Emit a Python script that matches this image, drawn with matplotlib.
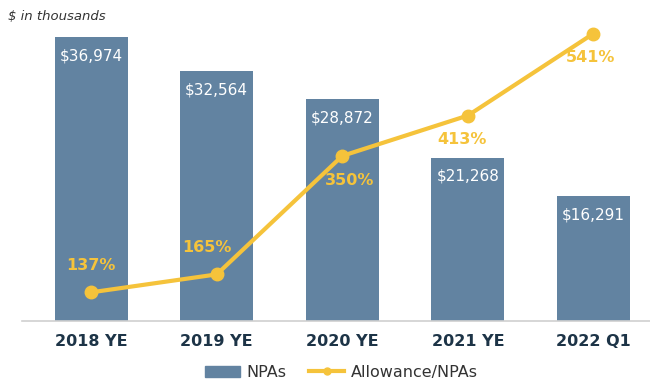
import matplotlib
matplotlib.use("Agg")
import matplotlib.pyplot as plt
from matplotlib.lines import Line2D
from matplotlib.patches import Patch

categories = ["2018 YE", "2019 YE", "2020 YE", "2021 YE", "2022 Q1"]
npas = [36974, 32564, 28872, 21268, 16291]
allowance_ratio = [137, 165, 350, 413, 541]
bar_labels = ["$36,974", "$32,564", "$28,872", "$21,268", "$16,291"]
ratio_labels = ["137%", "165%", "350%", "413%", "541%"]

BAR_COLOR = "#6283a1"
LINE_COLOR = "#f5c33b"
TICK_COLOR = "#1d3447"

plt.rcParams["font.family"] = ["DejaVu Sans"]

fig = plt.figure(figsize=(6.5, 3.86), dpi=100)
ax = fig.add_axes([0.034, 0.168, 0.966, 0.780])
x = list(range(len(categories)))

ax.bar(x, npas, width=0.58, color=BAR_COLOR, zorder=2)
ax.set_xlim(-0.55, 4.45)
ax.set_ylim(0, 39200)
ax.set_xticks(x)
ax.set_xticklabels(categories, fontsize=11.5, fontweight="bold", color=TICK_COLOR)
ax.tick_params(axis="x", length=0, pad=9)
ax.set_yticks([])
for side in ("top", "right", "left"):
    ax.spines[side].set_visible(False)
ax.spines["bottom"].set_color("#d0d0d0")
ax.spines["bottom"].set_linewidth(1.2)

for xi, v, lab in zip(x, npas, bar_labels):
    ax.annotate(lab, (xi, v), xytext=(0, -8), textcoords="offset points",
                ha="center", va="top", color="white", fontsize=11)

ax2 = ax.twinx()
ax2.set_ylim(92, 562)
ax2.set_yticks([])
for side in ("top", "right", "left", "bottom"):
    ax2.spines[side].set_visible(False)
ax2.plot(x, allowance_ratio, color=LINE_COLOR, lw=3, marker="o", ms=9, zorder=3)

offsets = [(0, 14), (-7, 14), (5, -12), (-4, -12), (-2, -12)]
for xi, v, lab, (dx, dy) in zip(x, allowance_ratio, ratio_labels, offsets):
    ax2.annotate(lab, (xi, v), xytext=(dx, dy), textcoords="offset points",
                 ha="center", va="bottom" if dy > 0 else "top",
                 color=LINE_COLOR, fontsize=11.5, fontweight="bold")

fig.text(0.013, 0.958, "$ in thousands", fontsize=9.5, style="italic",
         color="#333333", ha="left", va="center")

handles = [Patch(color=BAR_COLOR),
           Line2D([], [], color=LINE_COLOR, lw=3, marker="o", ms=5)]
fig.legend(handles, ["NPAs", "Allowance/NPAs"], loc="center",
           bbox_to_anchor=(0.525, 0.035), ncol=2, frameon=False,
           fontsize=11.5, handlelength=2.2, handletextpad=0.4,
           columnspacing=1.4, labelcolor="#333333")

fig.savefig("out.png", dpi=100)
